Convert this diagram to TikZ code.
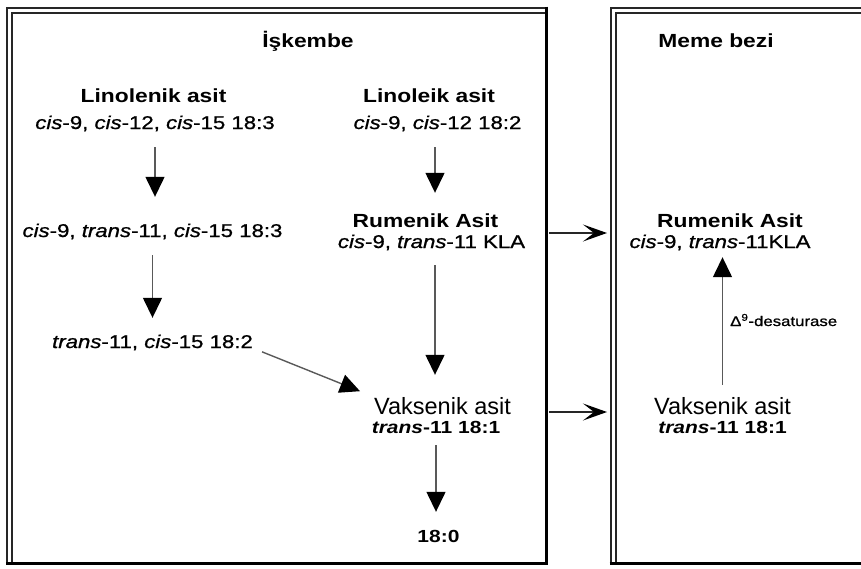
\documentclass[tikz,border=0pt]{standalone}
\usepackage{fontspec}
\setmainfont{Liberation Sans}
\newfontfamily\widesans[FakeStretch=1.2]{Liberation Sans}
\newfontfamily\widemedium[FakeStretch=1.2,FakeBold=0.9]{Liberation Sans}
\usetikzlibrary{arrows.meta}

\tikzset{
  lbl/.style={inner sep=0pt, anchor=base, text height=14pt, text depth=3pt},
  titletext/.style={lbl, font=\widesans\bfseries\fontsize{19}{22}\selectfont},
  acidname/.style={lbl, font=\widesans\bfseries\fontsize{19}{22}\selectfont},
  acidform/.style={lbl, font=\widemedium\fontsize{18.5}{22}\selectfont},
  vakname/.style={lbl, text height=17pt, font=\fontsize{23.5}{27}\selectfont},
  vakform/.style={lbl, text height=13pt, font=\widesans\bfseries\fontsize{17.5}{20}\selectfont},
  enzyme/.style={inner sep=0pt, anchor=base west, font=\widemedium\fontsize{14}{16}\selectfont},
  flow/.style={line width=1.4pt, draw=black!65,
    -{Triangle[length=20pt,width=19pt,color=black]}},
  transfer/.style={line width=1.6pt, draw=black!85,
    -{Stealth[length=24pt,width=17pt,inset=11pt,color=black]}},
  frameout/.style={line width=2pt, draw=black!85},
  framein/.style={line width=1.5pt, draw=black!85},
  framethick/.style={line width=3pt, draw=black},
}

\begin{document}
\begin{tikzpicture}[x=1pt,y=-1pt]
\useasboundingbox (0,0) rectangle (861,568);

% rumen compartment frame
\draw[frameout] (7,563) -- (7,8) -- (546,8);
\draw[framein] (12,562) -- (12,13) -- (545,13);
\draw[framethick] (546,6.5) -- (546,563) -- (5.5,563);

% mammary gland compartment frame
\draw[frameout] (611,563) -- (611,8) -- (862,8);
\draw[framein] (616,562) -- (616,13) -- (862,13);
\draw[framethick] (609.5,563.5) -- (862,563.5);

% titles
\node[titletext] (rumen) at (308,47) {İşkembe};
\node[titletext] (gland) at (716,47) {Meme bezi};

% rumen biohydrogenation
\node[acidname] (lnA)  at (153.5,102) {Linolenik asit};
\node[acidform] (lnAf) at (155,129) {\textit{cis}-9, \textit{cis}-12, \textit{cis}-15 18:3};
\node[acidname] (lnB)  at (429,102) {Linoleik asit};
\node[acidform] (lnBf) at (437.5,129) {\textit{cis}-9, \textit{cis}-12 18:2};
\node[acidform] (cvt)  at (152.5,237) {\textit{cis}-9, \textit{trans}-11, \textit{cis}-15 18:3};
\node[acidform] (tc)   at (152.5,348) {\textit{trans}-11, \textit{cis}-15 18:2};
\node[acidname] (rumA) at (425.5,227) {Rumenik Asit};
\node[acidform] (rumAf) at (431.5,248) {\textit{cis}-9, \textit{trans}-11 KLA};
\node[vakname] (vakA)  at (442.5,414) {Vaksenik asit};
\node[vakform] (vakAf) at (436,433) {\textit{trans}-11 18:1};
\node[vakform] (sat)   at (438.5,542) {18:0};

% mammary gland
\node[acidname] (rumB)  at (730,227) {Rumenik Asit};
\node[acidform] (rumBf) at (720,248) {\textit{cis}-9, \textit{trans}-11KLA};
\node[vakname] (vakB)   at (722.5,414) {Vaksenik asit};
\node[vakform] (vakBf)  at (722.5,433) {\textit{trans}-11 18:1};
\node[enzyme] (enz) at (730,326) {Δ\textsuperscript{9}-desaturase};

% pathway arrows
\draw[flow, shorten <=15pt, shorten >=26pt] (lnAf.south) -- (lnAf.south |- cvt.north);
\draw[flow, shorten <=15pt, shorten >=20pt] ([xshift=-2.5pt]lnBf.south) -- ([xshift=-2.5pt]lnBf.south |- rumA.north);
\draw[flow, shorten <=15pt, shorten >=16pt] (cvt.south) -- (cvt.south |- tc.north);
\draw[flow, shorten <=14pt, shorten >=22pt] ([xshift=3.5pt]rumAf.south) -- ([xshift=3.5pt]rumAf.south |- vakA.north);
\draw[flow, shorten <=9.75pt, shorten >=15pt] ([yshift=3pt]tc.south east) -- (vakA.north west);
\draw[flow, shorten <=9pt, shorten >=17pt] (vakAf.south) -- (vakAf.south |- sat.north);
\draw[flow, shorten <=12pt, shorten >=6pt] (vakB.north) -- (vakB.north |- rumBf.south);

% transfer from rumen to mammary gland
\coordinate (outA) at (549,233);
\coordinate (inA)  at (607,233);
\coordinate (outB) at (549,412);
\coordinate (inB)  at (607,412);
\draw[transfer] (outA) -- (inA);
\draw[transfer] (outB) -- (inB);
\end{tikzpicture}
\end{document}
